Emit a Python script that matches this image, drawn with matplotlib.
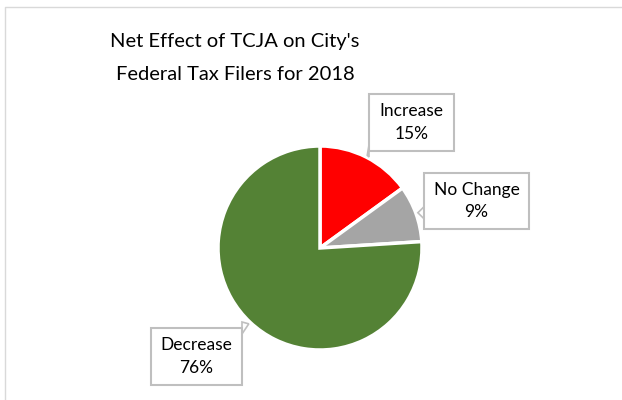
import numpy as np
import matplotlib.pyplot as plt
from matplotlib.patches import Rectangle, Polygon

# data
labels = ['Increase', 'No Change', 'Decrease']
shares = [15, 9, 76]
colors = ['#FF0000', '#A5A5A5', '#548235']

# label boxes in pixel space (x0, y0 top, width, height)
boxes = [(369, 94, 85, 57), (424, 173, 105, 56), (151, 328, 91, 57)]

W, H = 622, 400
fig = plt.figure(figsize=(W / 100, H / 100), dpi=100)
ax = fig.add_axes([0, 0, 1, 1])

plt.rcParams['font.family'] = ['Lato', 'DejaVu Sans']

cx, cy, r = 320, H - 248, 102
wedges, _ = ax.pie(shares, colors=colors, startangle=90, counterclock=False,
                   center=(cx, cy), radius=r, frame=True,
                   wedgeprops=dict(edgecolor='white', linewidth=2.5))
ax.set_xlim(0, W)
ax.set_ylim(0, H)
ax.set_aspect('equal')
ax.axis('off')

# chart frame (left and top edges visible)
ax.plot([5, 5, W], [0, H - 7, H - 7], color='#d9d9d9', lw=1)

ax.text(235, H - 42, "Net Effect of TCJA on City's", ha='center', va='center',
        fontsize=14.5, color='black')
ax.text(235, H - 75, "Federal Tax Filers for 2018", ha='center', va='center',
        fontsize=14.5, color='black')

for (bx, by, bw, bh), lab, val, w in zip(boxes, labels, shares, wedges):
    # pointer toward the edge of the wedge
    ang = np.deg2rad((w.theta1 + w.theta2) / 2)
    tip = (cx + r * 1.02 * np.cos(ang), cy + r * 1.02 * np.sin(ang))
    top = H - by
    ax.add_patch(Rectangle((bx, top - bh), bw, bh, facecolor='white',
                           edgecolor='#bfbfbf', lw=1.5, zorder=3))
    px = min(max(tip[0], bx), bx + bw)
    py = min(max(tip[1], top - bh), top)
    if px == bx or px == bx + bw:
        base = [(px, py - 6), (px, py + 6)]
    else:
        base = [(px - 6, py), (px + 6, py)]
    ax.add_patch(Polygon([base[0], tip, base[1]], closed=True, facecolor='white',
                         edgecolor='#bfbfbf', lw=1.2, zorder=2))
    ax.text(bx + bw / 2, top - bh / 2, f'{lab}\n{val}%', ha='center', va='center',
            fontsize=12.5, linespacing=1.5, zorder=4)

fig.savefig('out.png', dpi=100)
